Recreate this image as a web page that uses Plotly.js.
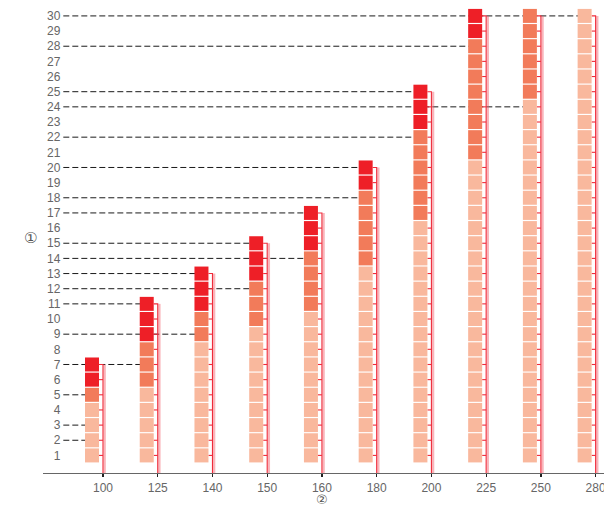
<!DOCTYPE html>
<html>
<head>
<meta charset="utf-8">
<script src="https://cdn.plot.ly/plotly-3.0.1.min.js"></script>
<style>
html,body{margin:0;padding:0;background:#fff;overflow:hidden;}
#chart{width:604px;height:506px;}
</style>
</head>
<body>
<div id="chart"></div>
<script>
// ---- data ----
const categories = ['100','125','140','150','160','180','200','225','250','280'];
const lightCounts  = [4, 5, 8, 9, 10, 13, 16, 20, 24, 30];
const mediumCounts = [1, 3, 2, 3, 4, 5, 6, 8, 6, 0];
const redCounts    = [2, 3, 3, 3, 3, 2, 3, 2, 0, 0];
const refValues      = [30, 28, 25, 24, 22, 20, 18, 17, 15, 14, 13, 12, 11, 9, 7, 5, 3, 2];
const refEndCategory = ['280','225','200','250','200','180','180','160','150','160','140','150','125','140','125','100','100','100'];
const yTickValues = [1,2,3,4,5,6,7,8,9,10,11,12,13,14,15,16,17,18,19,20,21,22,23,24,25,26,27,28,29,30];
const yTickLabels = ['1','2','3','4','5','6','7','8','9','10','11','12','13','14','15','16','17','18','19','20','21','22','23','24','25','26','27','28','29','30'];
const yTitle = '①';
const xTitle = '②';

// ---- styling constants ----
const COL_LIGHT = '#f9b89d';
const COL_MED = '#f27b5a';
const COL_RED = '#ee1f27';
const BLOCK_OFF = -0.201;   // block centre offset from category position (axis units)
const EDGE_OFF = -0.073;    // block right edge offset
const BAND_OFF = 0.03;      // pale band offset
const LINE_START = -0.725;  // dashed reference lines start
const Y_MIN = -0.16, Y_MAX = 31.05;

const idx = c => categories.indexOf(c);
const totals = categories.map((c,i)=>lightCounts[i]+mediumCounts[i]+redCounts[i]);

const traces = [];

// dashed reference lines (drawn first, blocks cover them)
const dx = [], dy = [];
refValues.forEach((v,k)=>{
  dx.push(LINE_START, idx(refEndCategory[k]) + BLOCK_OFF, null);
  dy.push(v, v, null);
});
traces.push({type:'scatter', mode:'lines', x:dx, y:dy, hoverinfo:'skip',
  line:{color:'#1a1a1a', width:1, dash:'6px,3px'}, showlegend:false});

// pale band next to the red ruler line
const bx = [], by = [];
categories.forEach((c,i)=>{ bx.push(i+BAND_OFF, i+BAND_OFF, null); by.push(Y_MIN, totals[i], null); });
traces.push({type:'scatter', mode:'lines', x:bx, y:by, hoverinfo:'skip',
  line:{color:'rgba(242,90,105,0.45)', width:2.4}, showlegend:false});

// red ruler outline with unit ticks
const rx = [], ry = [];
categories.forEach((c,i)=>{
  rx.push(i+EDGE_OFF, i, i, null); ry.push(totals[i], totals[i], Y_MIN, null);
  for(let k=1;k<totals[i];k++){ rx.push(i+EDGE_OFF, i, null); ry.push(k, k, null); }
});
traces.push({type:'scatter', mode:'lines', x:rx, y:ry, hoverinfo:'skip',
  line:{color:'#ef2b3a', width:1.1}, showlegend:false});

// unit blocks
function blocks(counts, startFn, color){
  const x=[], y=[];
  categories.forEach((c,i)=>{
    const s = startFn(i);
    for(let k=1;k<=counts[i];k++){ x.push(i+BLOCK_OFF); y.push(s+k); }
  });
  return {type:'scatter', mode:'markers', x, y, hoverinfo:'skip', showlegend:false,
    marker:{symbol:'square', size:14, color, line:{width:0}}};
}
traces.push(blocks(lightCounts, i=>0, COL_LIGHT));
traces.push(blocks(mediumCounts, i=>lightCounts[i], COL_MED));
traces.push(blocks(redCounts, i=>lightCounts[i]+mediumCounts[i], COL_RED));

const font = {family:'"Liberation Sans", Arial, sans-serif', size:12, color:'#666'};

const layout = {
  width:604, height:506,
  margin:{l:43, r:0, t:0, b:33, pad:0},
  paper_bgcolor:'#fff', plot_bgcolor:'#fff',
  font: font,
  showlegend:false,
  xaxis:{
    range:[-1.096, 9.153], tickvals:categories.map((c,i)=>i), ticktext:categories,
    showgrid:false, zeroline:false, showline:true, linecolor:'#666', linewidth:1.3,
    ticks:'outside', ticklen:3, tickwidth:1.3, tickcolor:'#222',
    ticklabeloverflow:'allow',
    tickfont:{family:font.family, size:12, color:'#666'},
    fixedrange:true
  },
  yaxis:{
    range:[Y_MIN, Y_MAX], tickvals:yTickValues, ticktext:yTickLabels,
    showgrid:false, zeroline:false, showline:false, ticks:'',
    anchor:'free', position:0.031,
    tickfont:{family:font.family, size:12, color:'#666'},
    fixedrange:true
  },
  annotations:[{
    text:yTitle, xref:'paper', yref:'paper', x:-0.023, y:0.497,
    xanchor:'center', yanchor:'middle', showarrow:false,
    font:{family:'"DejaVu Sans", sans-serif', size:15, color:'#555'}
  },{
    text:xTitle, xref:'paper', yref:'paper', x:0.497, y:-0.056,
    xanchor:'center', yanchor:'middle', showarrow:false,
    font:{family:'"DejaVu Sans", sans-serif', size:13, color:'#555'}
  }]
};

Plotly.newPlot('chart', traces, layout, {staticPlot:true, displayModeBar:false});
</script>
</body>
</html>
